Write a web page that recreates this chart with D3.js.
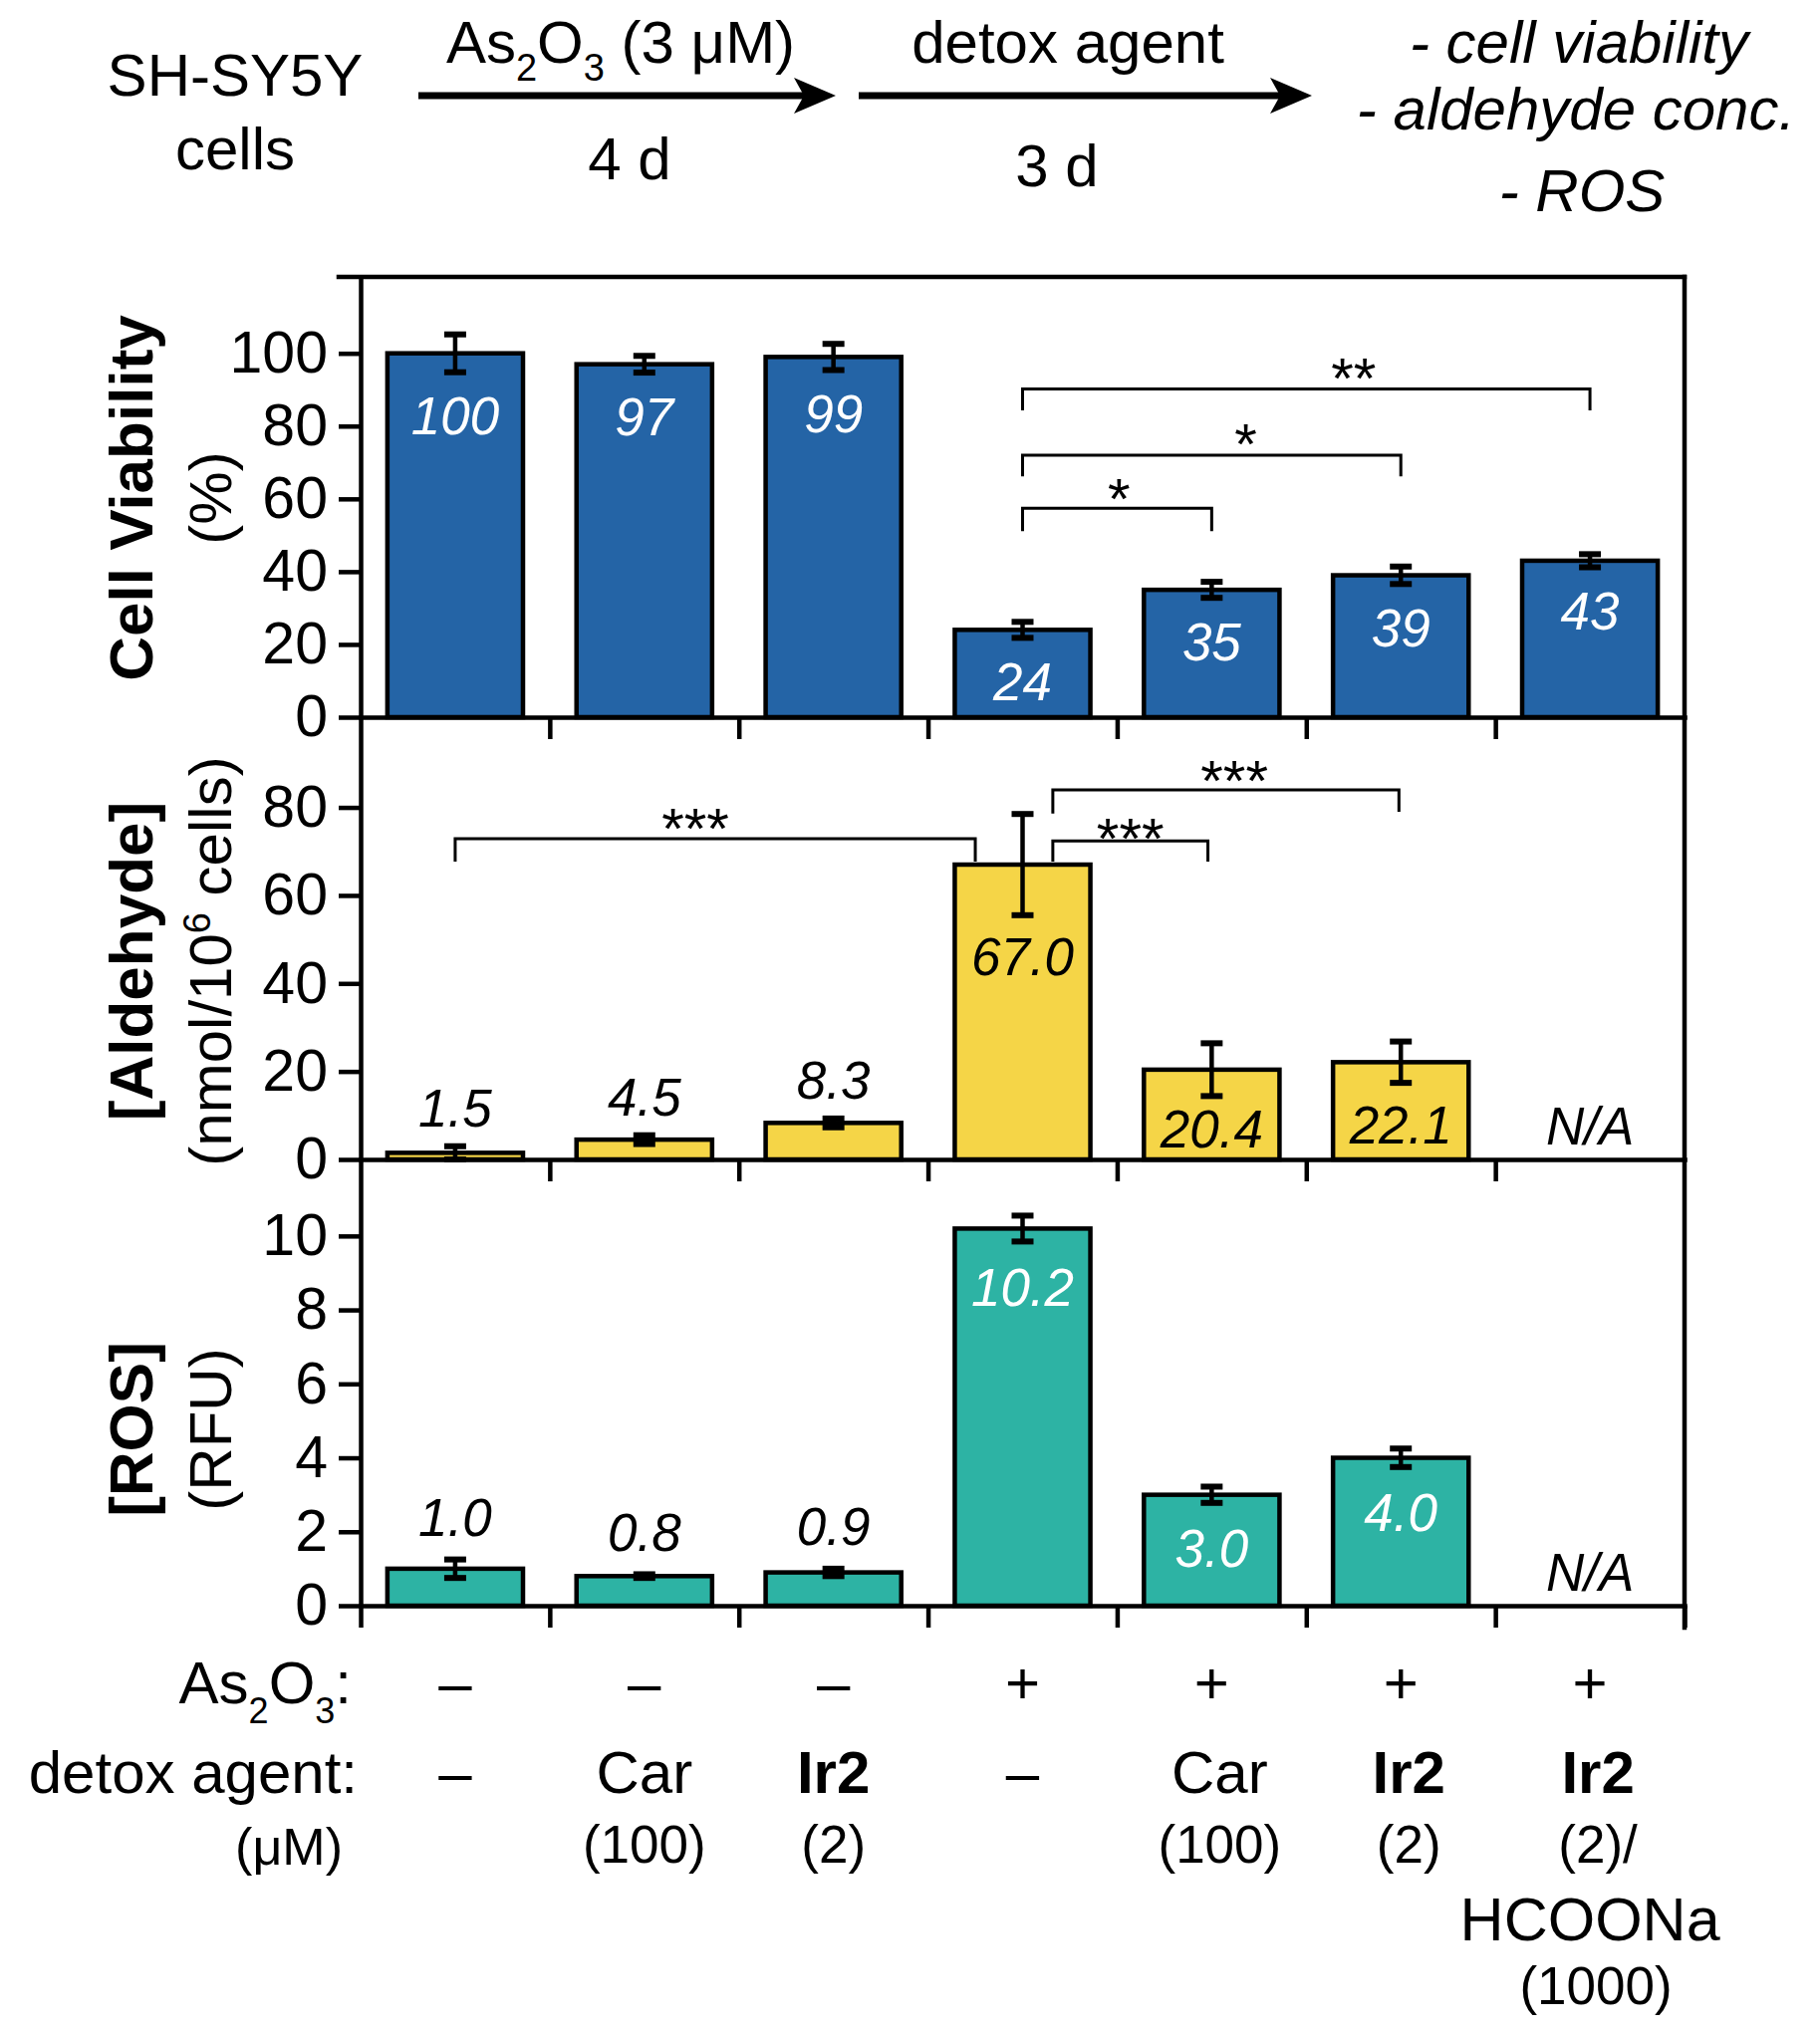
<!DOCTYPE html>
<html><head><meta charset="utf-8">
<script src="https://cdn.jsdelivr.net/npm/d3@7"></script>
<style>
body{margin:0;background:#fff}
svg{display:block}
text{font-family:"Liberation Sans",Arial,Helvetica,sans-serif;fill:#000}
</style>
</head><body>
<svg id="c" width="1827" height="2040"></svg>
<script>
// ---------- data ----------
const categories = ["control","Car","Ir2","As2O3","As2O3 + Car","As2O3 + Ir2","As2O3 + Ir2/HCOONa"];
const viability    = [100, 97, 99, 24, 35, 39, 43];
const viabilityErr = [5.2, 2.3, 3.6, 2.2, 2.2, 2.4, 1.8];
const aldehyde     = [1.5, 4.5, 8.3, 67.0, 20.4, 22.1, null];
const aldehydeErr  = [1.5, 1.0, 1.0, 11.5, 6.0, 4.7, null];
const ros          = [1.0, 0.8, 0.9, 10.2, 3.0, 4.0, null];
const rosErr       = [0.25, 0.05, 0.1, 0.35, 0.22, 0.25, null];
const viabilityTicks = [0, 20, 40, 60, 80, 100];
const aldehydeTicks  = [0, 20, 40, 60, 80];
const rosTicks       = [0, 2, 4, 6, 8, 10];
const as2o3Row   = ["–", "–", "–", "+", "+", "+", "+"];
const agentRow   = ["–", "Car", "Ir2", "–", "Car", "Ir2", "Ir2"];
const concRow    = ["", "(100)", "(2)", "", "(100)", "(2)", "(2)/"];
const extraRow   = ["", "", "", "", "", "", "HCOONa"];
const extraConc  = ["", "", "", "", "", "", "(1000)"];
// significance brackets: category-unit ends, levels in data units
const viabilityBrackets = [
  {a: 3.5, b: 6.5, level: 90.2, legA: 84.3, legB: 84.3, label: "**", at: 5.25, labelLevel: 96.6},
  {a: 3.5, b: 5.5, level: 72.0, legA: 66.2, legB: 66.2, label: "*",  at: 4.68, labelLevel: 78.6},
  {a: 3.5, b: 4.5, level: 57.4, legA: 51.1, legB: 51.1, label: "*",  at: 4.01, labelLevel: 63.5}
];
const aldehydeBrackets = [
  {a: 0.5,  b: 3.25, level: 72.9, legA: 67.7, legB: 67.7, label: "***", at: 1.77, labelLevel: 78.0},
  {a: 3.66, b: 4.48, level: 72.4, legA: 67.7, legB: 67.7, label: "***", at: 4.07, labelLevel: 75.8},
  {a: 3.66, b: 5.49, level: 84.0, legA: 78.6, legB: 79.0, label: "***", at: 4.62, labelLevel: 89.0}
];

(function() {
// ---------- layout ----------
const svg = d3.select("#c");
const X0 = 362, X1 = 1691;
const x = d3.scaleBand().domain(d3.range(7)).range([X0, X1]).paddingInner(0.283).paddingOuter(0.1415);
const xu = d3.scaleLinear().domain([0, 7]).range([X0, X1]);
const cx = i => x(i) + x.bandwidth() / 2;
const LW = 4.5;

const panels = [
  {vals: viability, errs: viabilityErr, ticks: viabilityTicks, top: 278, bottom: 720, max: 121,
   color: "#2464A6", fmt: d3.format("d"), brackets: viabilityBrackets,
   title: "Cell Viability", sub: [["(%)"]], ty: 500,
   place: (v, e, y, b) => ({y: y(v - e) + 44, fill: "#fff"})},
  {vals: aldehyde, errs: aldehydeErr, ticks: aldehydeTicks, top: 720, bottom: 1164, max: 100.5,
   color: "#F5D547", fmt: d3.format(".1f"), brackets: aldehydeBrackets,
   title: "[Aldehyde]", sub: [["(nmol/10"], ["6", "sup"], [" cells)"]], ty: 965,
   place: (v, e, y, b) => v < 10 ? {y: y(v + e) - 38, fill: "#000"}
                                  : {y: Math.min(y(v - e) + 42, b - 31), fill: "#000"}},
  {vals: ros, errs: rosErr, ticks: rosTicks, top: 1164, bottom: 1612, max: 12.07,
   color: "#2DB3A4", fmt: d3.format(".1f"), brackets: [],
   title: "[ROS]", sub: [["(RFU)"]], ty: 1435,
   place: (v, e, y, b) => v < 2 ? {y: y(v + e) - 42, fill: "#000"}
                                 : {y: Math.min(y(v - e) + 46, b - 40), fill: "#fff"}}
];

panels.forEach((p, pi) => {
  const y = d3.scaleLinear().domain([0, p.max]).range([p.bottom, p.top]);
  const g = svg.append("g");
  const idx = d3.range(7).filter(i => p.vals[i] != null);

  g.selectAll("rect.bar").data(idx).join("rect")
    .attr("x", i => x(i)).attr("width", x.bandwidth())
    .attr("y", i => y(p.vals[i])).attr("height", i => p.bottom - y(p.vals[i]))
    .attr("fill", p.color).attr("stroke", "#000").attr("stroke-width", LW);

  const eb = g.selectAll("g.eb").data(idx).join("g");
  eb.append("line").attr("x1", i => cx(i)).attr("x2", i => cx(i))
    .attr("y1", i => y(p.vals[i] - p.errs[i])).attr("y2", i => y(p.vals[i] + p.errs[i]))
    .attr("stroke", "#000").attr("stroke-width", 4.5);
  [-1, 1].forEach(s => {
    eb.append("line").attr("x1", i => cx(i) - 11).attr("x2", i => cx(i) + 11)
      .attr("y1", i => y(p.vals[i] + s * p.errs[i])).attr("y2", i => y(p.vals[i] + s * p.errs[i]))
      .attr("stroke", "#000").attr("stroke-width", 6);
  });

  g.selectAll("text.val").data(idx).join("text")
    .each(function(i) {
      const pl = p.place(p.vals[i], p.errs[i], y, p.bottom);
      d3.select(this).attr("x", cx(i)).attr("y", pl.y).style("fill", pl.fill);
    })
    .attr("dy", "0.35em").attr("text-anchor", "middle")
    .attr("font-size", 53).attr("font-style", "italic")
    .text(i => p.fmt(p.vals[i]));

  d3.range(7).filter(i => p.vals[i] == null).forEach(i => {
    g.append("text").attr("x", cx(i)).attr("y", p.bottom - 34).attr("dy", "0.35em")
      .attr("text-anchor", "middle").attr("font-size", 53).attr("font-style", "italic").text("N/A");
  });

  const ya = g.append("g").attr("transform", `translate(${X0},0)`)
    .call(d3.axisLeft(y).tickValues(p.ticks).tickSize(22).tickSizeOuter(0).tickPadding(11));
  ya.select(".domain").attr("stroke-width", LW);
  ya.selectAll(".tick line").attr("stroke-width", LW);
  ya.selectAll(".tick text").attr("font-size", 59).attr("font-family", null).attr("fill", "#000");

  const last = pi === panels.length - 1;
  const xa = g.append("g").attr("transform", `translate(0,${p.bottom})`)
    .call(d3.axisBottom(xu).tickValues(last ? d3.range(0, 8) : d3.range(1, 7))
      .tickSize(22).tickSizeOuter(0).tickFormat(""));
  xa.select(".domain").attr("stroke-width", LW).attr("stroke-linecap", "square");
  xa.selectAll(".tick line").attr("stroke-width", LW);

  p.brackets.forEach(br => {
    g.append("path")
      .attr("d", `M${xu(br.a)},${y(br.legA)}V${y(br.level)}H${xu(br.b)}V${y(br.legB)}`)
      .attr("fill", "none").attr("stroke", "#000").attr("stroke-width", 3);
    g.append("text").attr("x", xu(br.at)).attr("y", y(br.labelLevel) + 33)
      .attr("text-anchor", "middle").attr("font-size", 58).text(br.label);
  });

  const t = g.append("g").attr("transform", `translate(131,${p.ty}) rotate(-90)`);
  t.append("text").attr("text-anchor", "middle").attr("dy", "0.35em")
    .attr("font-size", 62).attr("font-weight", "bold").text(p.title);
  const s = g.append("g").attr("transform", `translate(211,${p.ty}) rotate(-90)`)
    .append("text").attr("text-anchor", "middle").attr("dy", "0.35em").attr("font-size", 60);
  p.sub.forEach(part => {
    const ts = s.append("tspan").text(part[0]);
    if (part[1] === "sup") ts.attr("font-size", 38).attr("baseline-shift", "super");
  });
});

svg.append("line").attr("x1", X0 - 22).attr("x2", X1).attr("y1", 278).attr("y2", 278)
  .attr("stroke", "#000").attr("stroke-width", LW).attr("stroke-linecap", "square");
svg.append("line").attr("x1", X1).attr("x2", X1).attr("y1", 278).attr("y2", 1634)
  .attr("stroke", "#000").attr("stroke-width", LW).attr("stroke-linecap", "square");

// ---------- condition table ----------
const tbl = svg.append("g");
function label(xp, yp, anchor, size, parts, opts = {}) {
  const t = tbl.append("text").attr("x", xp).attr("y", yp).attr("text-anchor", anchor).attr("font-size", size);
  if (opts.bold) t.attr("font-weight", "bold");
  parts.forEach(pt => {
    if (typeof pt === "string") t.append("tspan").text(pt);
    else t.append("tspan").attr("font-size", pt.size).attr("dy", pt.dy).text(pt.t);
  });
  return t;
}
label(353, 1710, "end", 60, ["As", {t: "2", size: 36, dy: 20}, {t: "O", size: 60, dy: -20}, {t: "3", size: 36, dy: 20}, {t: ":", size: 60, dy: -20}]);
label(359, 1800, "end", 60, ["detox agent:"]);
label(344, 1872, "end", 52, ["(μM)"]);
as2o3Row.forEach((v, i) => label(cx(i), 1710, "middle", 60, [v]));
agentRow.forEach((v, i) => label(cx(i) + (i >= 4 ? 8 : 0), 1800, "middle", 60, [v], {bold: v === "Ir2"}));
concRow.forEach((v, i) => { if (v) label(cx(i) + (i >= 4 ? 8 : 0), 1870, "middle", 53, [v]); });
extraRow.forEach((v, i) => { if (v) label(cx(i), 1948, "middle", 61, [v]); });
extraConc.forEach((v, i) => { if (v) label(cx(i) + 6, 2012, "middle", 53, [v]); });

// ---------- top schematic ----------
const schem = svg.append("g");
function tt(xp, yp, parts, opts = {}) {
  const t = schem.append("text").attr("x", xp).attr("y", yp).attr("text-anchor", "middle").attr("font-size", 60);
  if (opts.italic) t.attr("font-style", "italic");
  parts.forEach(pt => {
    if (typeof pt === "string") t.append("tspan").text(pt);
    else t.append("tspan").attr("font-size", pt.size).attr("dy", pt.dy).text(pt.t);
  });
}
tt(236, 96, ["SH-SY5Y"]);
tt(236, 170, ["cells"]);
tt(623, 63, ["As", {t: "2", size: 38, dy: 18}, {t: "O", size: 60, dy: -18}, {t: "3", size: 38, dy: 18}, {t: " (3 μM)", size: 60, dy: -18}]);
tt(632, 180, ["4 d"]);
tt(1072, 63, ["detox agent"]);
tt(1061, 187, ["3 d"]);
tt(1585, 63, ["- cell viability"], {italic: true});
tt(1582, 130, ["- aldehyde conc."], {italic: true});
tt(1588, 212, ["- ROS"], {italic: true});

function arrow(xa, xb, yv) {
  schem.append("line").attr("x1", xa).attr("x2", xb - 20).attr("y1", yv).attr("y2", yv)
    .attr("stroke", "#000").attr("stroke-width", 7);
  schem.append("path")
    .attr("d", `M${xb},${yv} L${xb - 42},${yv - 18} L${xb - 32},${yv} L${xb - 42},${yv + 18} Z`)
    .attr("fill", "#000");
}
arrow(420, 839, 96);
arrow(862, 1317, 96);
})();
</script>
</body></html>
